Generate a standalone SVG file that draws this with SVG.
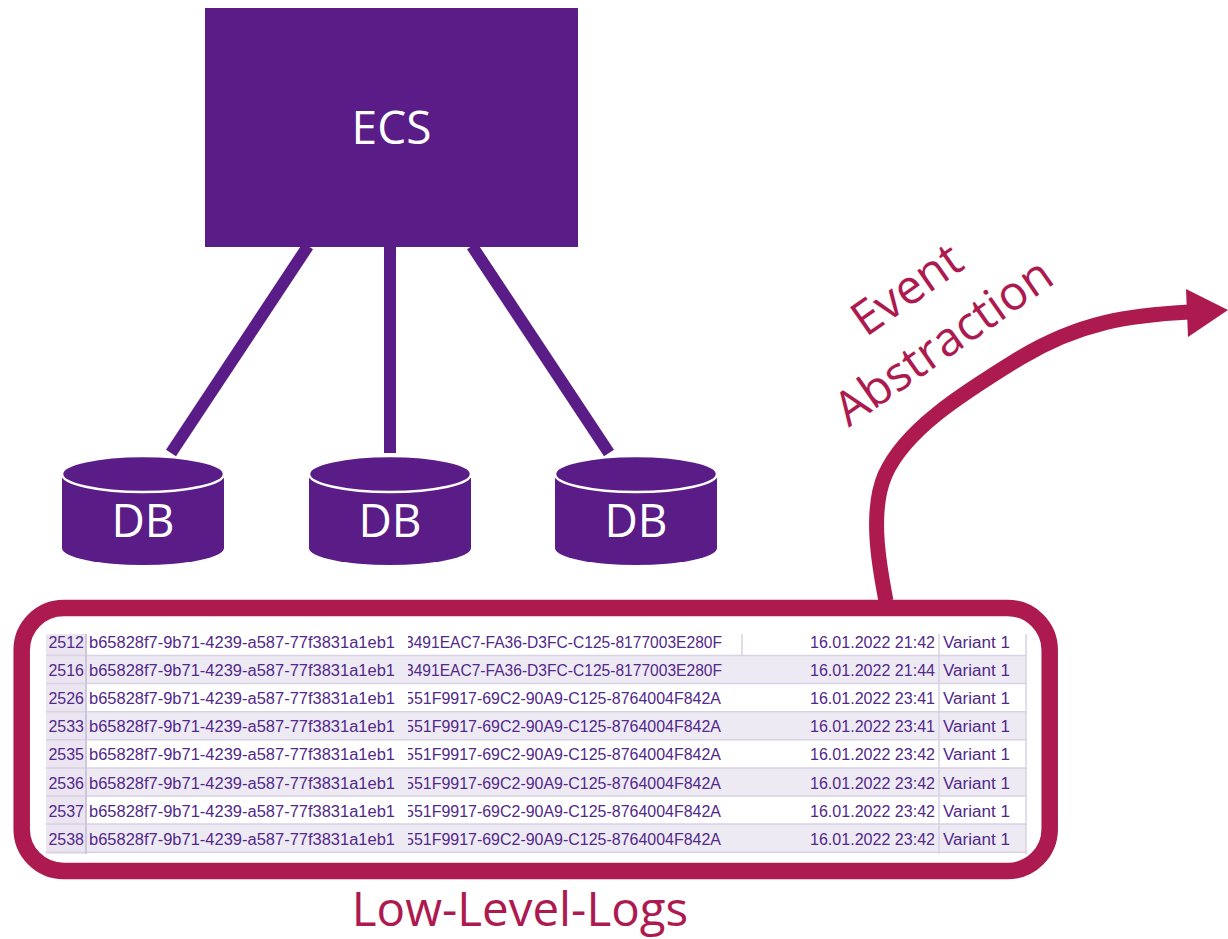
<svg xmlns="http://www.w3.org/2000/svg" width="1228" height="939" viewBox="0 0 1228 939">
  <style>
    .purple { fill: #5A1C86; }
    .conn { stroke: #5A1C86; stroke-width: 12; fill: none; }
    .lbl { font-family: "Open Sans", "Noto Sans", sans-serif; font-size: 46px; }
    .big { font-size: 47.5px; }
    .wt { fill: #FFFFFF; }
    .mr { fill: #AD1A4F; }
    .cell { font-family: "Liberation Sans", Arial, sans-serif; font-size: 16px; fill: #52288A; }
    .rowbg { fill: #EEEAF4; }
    .grid { stroke: #D9D1E4; stroke-width: 1.5; }
  </style>
  <defs>
    <clipPath id="col2clip"><rect x="408" y="630" width="332" height="226"/></clipPath>
  </defs>
  <rect width="1228" height="939" fill="#FFFFFF"/>

  <g id="connectors">
    <line class="conn" x1="308" y1="246" x2="171" y2="453"/>
    <line class="conn" x1="390" y1="246" x2="390" y2="453"/>
    <line class="conn" x1="472" y1="246" x2="609" y2="453"/>
    <path d="M886,601 C878,560 870,510 885,475 C905,430 960,395 1020,358 C1080,322 1130,315 1190,312" fill="none" stroke="#AD1A4F" stroke-width="15"/>
    <polygon points="1186,289 1228,310 1188,337" fill="#AD1A4F"/>
  </g>

  <g id="ecs">
    <rect class="purple" x="205" y="8" width="373" height="239"/>
    <text class="lbl wt" x="391.5" y="144" text-anchor="middle">ECS</text>
  </g>

  <g id="db1">
    <path class="purple" d="M62,474 L62,548 A81,17 0 0 0 224,548 L224,474 Z"/>
    <ellipse class="purple" cx="143" cy="474" rx="81" ry="18" stroke="#FFFFFF" stroke-width="2.5"/>
    <text class="lbl wt" x="143" y="537" text-anchor="middle">DB</text>
  </g>
  <g id="db2">
    <path class="purple" d="M309,474 L309,548 A81,17 0 0 0 471,548 L471,474 Z"/>
    <ellipse class="purple" cx="390" cy="474" rx="81" ry="18" stroke="#FFFFFF" stroke-width="2.5"/>
    <text class="lbl wt" x="390" y="537" text-anchor="middle">DB</text>
  </g>
  <g id="db3">
    <path class="purple" d="M555,474 L555,548 A81,17 0 0 0 717,548 L717,474 Z"/>
    <ellipse class="purple" cx="636" cy="474" rx="81" ry="18" stroke="#FFFFFF" stroke-width="2.5"/>
    <text class="lbl wt" x="636" y="537" text-anchor="middle">DB</text>
  </g>

  <g id="event-abstraction-label" transform="translate(847,429) rotate(-35)">
    <text class="lbl big mr" x="129" y="-64" text-anchor="middle">Event</text>
    <text class="lbl big mr" x="129" y="0" text-anchor="middle">Abstraction</text>
  </g>

  <g id="low-level-logs">
    <rect x="21.7" y="608" width="1028" height="263" rx="42" ry="42" fill="#FFFFFF" stroke="#AD1A4F" stroke-width="16.5"/>
    <g id="log-table">
      <rect x="46" y="634" width="980" height="220" fill="#FFFFFF"/>
      <rect x="46" y="634" width="40" height="220" fill="#EAE5F0"/>
      <rect class="rowbg" x="86" y="655.5" width="940" height="28.1"/>
      <rect class="rowbg" x="86" y="711.7" width="940" height="28.1"/>
      <rect class="rowbg" x="86" y="767.9" width="940" height="28.1"/>
      <rect class="rowbg" x="86" y="824.1" width="940" height="28.1"/>
      <line class="grid" x1="46" y1="655.5" x2="1026" y2="655.5"/>
      <line class="grid" x1="46" y1="683.6" x2="1026" y2="683.6"/>
      <line class="grid" x1="46" y1="711.7" x2="1026" y2="711.7"/>
      <line class="grid" x1="46" y1="739.8" x2="1026" y2="739.8"/>
      <line class="grid" x1="46" y1="767.9" x2="1026" y2="767.9"/>
      <line class="grid" x1="46" y1="796.0" x2="1026" y2="796.0"/>
      <line class="grid" x1="46" y1="824.1" x2="1026" y2="824.1"/>
      <line class="grid" x1="46" y1="852.2" x2="1026" y2="852.2"/>
      <line x1="86" y1="634" x2="86" y2="854" stroke="#CFC5DD" stroke-width="2"/>
      <line class="grid" x1="939" y1="634" x2="939" y2="854"/>
      <line class="grid" x1="1026" y1="634" x2="1026" y2="854"/>
      <line class="grid" x1="742" y1="634" x2="742" y2="655.5"/>

      <g text-anchor="end">
        <text class="cell" x="84" y="648">2512</text>
        <text class="cell" x="84" y="676.1">2516</text>
        <text class="cell" x="84" y="704.2">2526</text>
        <text class="cell" x="84" y="732.3">2533</text>
        <text class="cell" x="84" y="760.4">2535</text>
        <text class="cell" x="84" y="788.5">2536</text>
        <text class="cell" x="84" y="816.6">2537</text>
        <text class="cell" x="84" y="844.7">2538</text>
      </g>

      <text class="cell" x="89" y="648" textLength="306" lengthAdjust="spacingAndGlyphs">b65828f7-9b71-4239-a587-77f3831a1eb1</text>
      <text class="cell" x="89" y="676.1" textLength="306" lengthAdjust="spacingAndGlyphs">b65828f7-9b71-4239-a587-77f3831a1eb1</text>
      <text class="cell" x="89" y="704.2" textLength="306" lengthAdjust="spacingAndGlyphs">b65828f7-9b71-4239-a587-77f3831a1eb1</text>
      <text class="cell" x="89" y="732.3" textLength="306" lengthAdjust="spacingAndGlyphs">b65828f7-9b71-4239-a587-77f3831a1eb1</text>
      <text class="cell" x="89" y="760.4" textLength="306" lengthAdjust="spacingAndGlyphs">b65828f7-9b71-4239-a587-77f3831a1eb1</text>
      <text class="cell" x="89" y="788.5" textLength="306" lengthAdjust="spacingAndGlyphs">b65828f7-9b71-4239-a587-77f3831a1eb1</text>
      <text class="cell" x="89" y="816.6" textLength="306" lengthAdjust="spacingAndGlyphs">b65828f7-9b71-4239-a587-77f3831a1eb1</text>
      <text class="cell" x="89" y="844.7" textLength="306" lengthAdjust="spacingAndGlyphs">b65828f7-9b71-4239-a587-77f3831a1eb1</text>

      <g clip-path="url(#col2clip)">
        <text class="cell" x="405" y="648" textLength="317" lengthAdjust="spacingAndGlyphs">3491EAC7-FA36-D3FC-C125-8177003E280F</text>
        <text class="cell" x="405" y="676.1" textLength="317" lengthAdjust="spacingAndGlyphs">3491EAC7-FA36-D3FC-C125-8177003E280F</text>
        <text class="cell" x="405" y="704.2" textLength="316" lengthAdjust="spacingAndGlyphs">551F9917-69C2-90A9-C125-8764004F842A</text>
        <text class="cell" x="405" y="732.3" textLength="316" lengthAdjust="spacingAndGlyphs">551F9917-69C2-90A9-C125-8764004F842A</text>
        <text class="cell" x="405" y="760.4" textLength="316" lengthAdjust="spacingAndGlyphs">551F9917-69C2-90A9-C125-8764004F842A</text>
        <text class="cell" x="405" y="788.5" textLength="316" lengthAdjust="spacingAndGlyphs">551F9917-69C2-90A9-C125-8764004F842A</text>
        <text class="cell" x="405" y="816.6" textLength="316" lengthAdjust="spacingAndGlyphs">551F9917-69C2-90A9-C125-8764004F842A</text>
        <text class="cell" x="405" y="844.7" textLength="316" lengthAdjust="spacingAndGlyphs">551F9917-69C2-90A9-C125-8764004F842A</text>
      </g>

      <text class="cell" x="810" y="648" textLength="125" lengthAdjust="spacingAndGlyphs">16.01.2022 21:42</text>
      <text class="cell" x="810" y="676.1" textLength="125" lengthAdjust="spacingAndGlyphs">16.01.2022 21:44</text>
      <text class="cell" x="810" y="704.2" textLength="125" lengthAdjust="spacingAndGlyphs">16.01.2022 23:41</text>
      <text class="cell" x="810" y="732.3" textLength="125" lengthAdjust="spacingAndGlyphs">16.01.2022 23:41</text>
      <text class="cell" x="810" y="760.4" textLength="125" lengthAdjust="spacingAndGlyphs">16.01.2022 23:42</text>
      <text class="cell" x="810" y="788.5" textLength="125" lengthAdjust="spacingAndGlyphs">16.01.2022 23:42</text>
      <text class="cell" x="810" y="816.6" textLength="125" lengthAdjust="spacingAndGlyphs">16.01.2022 23:42</text>
      <text class="cell" x="810" y="844.7" textLength="125" lengthAdjust="spacingAndGlyphs">16.01.2022 23:42</text>

      <text class="cell" x="943" y="648" textLength="67" lengthAdjust="spacingAndGlyphs">Variant 1</text>
      <text class="cell" x="943" y="676.1" textLength="67" lengthAdjust="spacingAndGlyphs">Variant 1</text>
      <text class="cell" x="943" y="704.2" textLength="67" lengthAdjust="spacingAndGlyphs">Variant 1</text>
      <text class="cell" x="943" y="732.3" textLength="67" lengthAdjust="spacingAndGlyphs">Variant 1</text>
      <text class="cell" x="943" y="760.4" textLength="67" lengthAdjust="spacingAndGlyphs">Variant 1</text>
      <text class="cell" x="943" y="788.5" textLength="67" lengthAdjust="spacingAndGlyphs">Variant 1</text>
      <text class="cell" x="943" y="816.6" textLength="67" lengthAdjust="spacingAndGlyphs">Variant 1</text>
      <text class="cell" x="943" y="844.7" textLength="67" lengthAdjust="spacingAndGlyphs">Variant 1</text>
    </g>
    <text class="lbl mr" x="520" y="926" text-anchor="middle" style="font-size:47.5px">Low-Level-Logs</text>
  </g>
</svg>
